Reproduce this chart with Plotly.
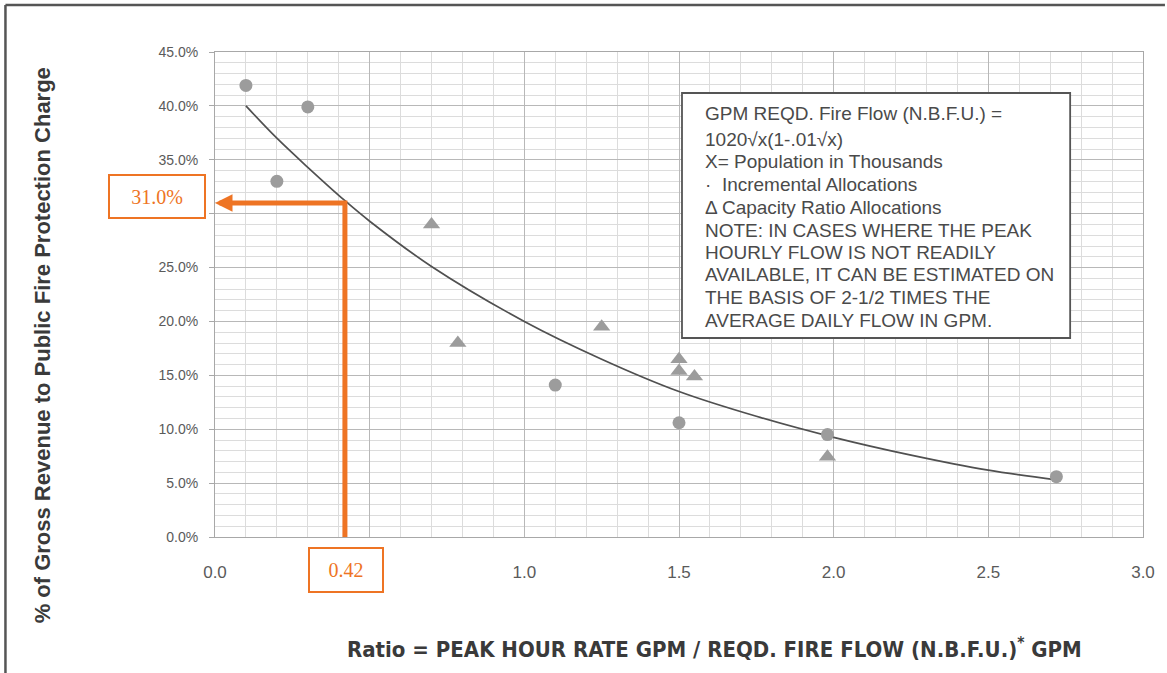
import plotly.graph_objects as go

# ---------------- data ----------------
incr_x = [0.10, 0.20, 0.30, 1.10, 1.50, 1.98, 2.72]
incr_y = [41.9, 33.0, 39.9, 14.1, 10.6, 9.5, 5.6]

cap_x = [0.70, 0.785, 1.25, 1.50, 1.50, 1.55, 1.98]
cap_y = [29.0, 18.0, 19.5, 16.5, 15.4, 14.9, 7.45]

curve_x = [0.10, 0.20, 0.30, 0.42, 0.50, 0.70, 1.00, 1.25, 1.50, 1.75, 2.00, 2.25, 2.50, 2.72]
curve_y = [40.0, 37.0, 34.3, 31.2, 29.3, 25.1, 20.0, 16.5, 13.5, 11.2, 9.25, 7.6, 6.2, 5.3]

lookup_x = 0.42
lookup_y = 31.0
lookup_x_label = "0.42"
lookup_y_label = "31.0%"

x_ticks = [0.0, 0.5, 1.0, 1.5, 2.0, 2.5, 3.0]
x_tick_labels = ["0.0", "", "1.0", "1.5", "2.0", "2.5", "3.0"]  # 0.5 hidden under the 0.42 box
y_ticks = [0, 5, 10, 15, 20, 25, 30, 35, 40, 45]
y_tick_labels = ["0.0%", "5.0%", "10.0%", "15.0%", "20.0%", "25.0%", "", "35.0%", "40.0%", "45.0%"]  # 30% under box

note_lines = [
    "GPM REQD. Fire Flow (N.B.F.U.) =",
    "1020\u221ax(1-.01\u221ax)",
    "X= Population in Thousands",
    "\u00b7  Incremental Allocations",
    "\u0394 Capacity Ratio Allocations",
    "NOTE: IN CASES WHERE THE PEAK",
    "HOURLY FLOW IS NOT READILY",
    "AVAILABLE, IT CAN BE ESTIMATED ON",
    "THE BASIS OF 2-1/2 TIMES THE",
    "AVERAGE DAILY FLOW IN GPM.",
]

x_title = "Ratio = PEAK HOUR RATE GPM / REQD. FIRE FLOW (N.B.F.U.)<sup>*</sup> GPM"
y_title = "% of Gross Revenue to Public Fire Protection Charge"

# ---------------- layout geometry ----------------
W, H = 1167, 673
L, R, T, B = 215, 1145, 52, 537


def px_x(px):
    return (px - L) / (R - L)


def px_y(py):
    return (B - py) / (B - T)


ORANGE = "#EE7424"
MARK = "#9c9c9c"

fig = go.Figure()

# fitted curve
fig.add_trace(go.Scatter(x=curve_x, y=curve_y, mode="lines",
                         line=dict(color="#505050", width=1.7, shape="spline", smoothing=1.0),
                         hoverinfo="skip", showlegend=False))
# incremental allocations (circles)
fig.add_trace(go.Scatter(x=incr_x, y=incr_y, mode="markers",
                         marker=dict(symbol="circle", size=13, color=MARK),
                         showlegend=False))
# capacity ratio allocations (triangles)
fig.add_trace(go.Scatter(x=cap_x, y=cap_y, mode="markers",
                         marker=dict(symbol="triangle-up", size=15, color=MARK),
                         showlegend=False))
# orange lookup lines
fig.add_trace(go.Scatter(x=[lookup_x, lookup_x, 0.03], y=[0, lookup_y, lookup_y], mode="lines",
                         line=dict(color=ORANGE, width=5), hoverinfo="skip", showlegend=False,
                         cliponaxis=False))

annotations = []
# arrow head
annotations.append(dict(x=0.0, y=lookup_y, xref="x", yref="y", ax=0.06, ay=lookup_y,
                        axref="x", ayref="y", showarrow=True, arrowhead=2, arrowsize=0.7,
                        arrowwidth=5, arrowcolor=ORANGE, text=" "))

# orange label boxes
annotations.append(dict(x=px_x(157), y=px_y(196.5), xref="paper", yref="paper",
                        text=lookup_y_label, showarrow=False, xanchor="center", yanchor="middle",
                        font=dict(family="Liberation Serif, Times New Roman, serif", size=20, color=ORANGE),
                        bordercolor=ORANGE, borderwidth=2, borderpad=0, width=94, height=41,
                        bgcolor="white"))
annotations.append(dict(x=px_x(346), y=px_y(570), xref="paper", yref="paper",
                        text=lookup_x_label, showarrow=False, xanchor="center", yanchor="middle",
                        font=dict(family="Liberation Serif, Times New Roman, serif", size=20, color=ORANGE),
                        bordercolor=ORANGE, borderwidth=2, borderpad=0, width=72, height=42,
                        bgcolor="white"))

# note box text
line_py = [113, 139, 161, 184, 207, 230, 252, 274, 297, 320]
for txt, py in zip(note_lines, line_py):
    annotations.append(dict(x=px_x(704), y=px_y(py), xref="paper", yref="paper", text=txt,
                            showarrow=False, xanchor="left", yanchor="middle",
                            font=dict(family="Liberation Sans, Arial, sans-serif", size=19, color="#4a4a4a")))

# axis titles
annotations.append(dict(x=px_x(716), y=px_y(648), xref="paper", yref="paper", text="<b>" + x_title + "</b>",
                        showarrow=False, xanchor="center", yanchor="middle",
                        font=dict(family="Liberation Sans Narrow, Arial Narrow, DejaVu Sans Condensed, sans-serif",
                                  size=22, color="#3a3a3a")))
annotations.append(dict(x=px_x(42), y=px_y(345), xref="paper", yref="paper", text="<b>" + y_title + "</b>",
                        showarrow=False, xanchor="center", yanchor="middle", textangle=-90,
                        font=dict(family="Liberation Sans, Arial, sans-serif", size=22, color="#3a3a3a")))

shapes = [
    # note box
    dict(type="rect", xref="paper", yref="paper", x0=px_x(683), x1=px_x(1072), y0=px_y(338), y1=px_y(93),
         line=dict(color="#555555", width=1.8), fillcolor="white", layer="above"),
    # outer frame (top and left edges)
    dict(type="line", xref="paper", yref="paper", x0=px_x(5), x1=px_x(1167), y0=px_y(5), y1=px_y(5),
         line=dict(color="#555555", width=2.5)),
    dict(type="line", xref="paper", yref="paper", x0=px_x(5), x1=px_x(5), y0=px_y(5), y1=px_y(673),
         line=dict(color="#555555", width=2.5)),
]

fig.update_layout(
    width=W, height=H,
    margin=dict(l=L, r=W - R, t=T, b=H - B),
    paper_bgcolor="white", plot_bgcolor="white",
    showlegend=False,
    annotations=annotations,
    shapes=shapes,
    xaxis=dict(range=[0, 3], tickvals=x_ticks, ticktext=x_tick_labels,
               showgrid=True, gridcolor="#b8b8b8", gridwidth=1,
               minor=dict(dtick=0.1, showgrid=True, gridcolor="#dcdcdc", gridwidth=1),
               showline=True, linecolor="#a8a8a8", linewidth=1, mirror=True,
               ticks="", zeroline=False, ticklabelstandoff=20,
               tickfont=dict(family="Liberation Sans, Arial, sans-serif", size=17, color="#5a5a5a")),
    yaxis=dict(range=[0, 45], tickvals=y_ticks, ticktext=y_tick_labels,
               showgrid=True, gridcolor="#b8b8b8", gridwidth=1,
               minor=dict(dtick=1, showgrid=True, gridcolor="#dcdcdc", gridwidth=1),
               showline=True, linecolor="#a8a8a8", linewidth=1, mirror=True,
               ticks="outside", ticklen=5, tickcolor="#a8a8a8", zeroline=False, ticklabelstandoff=8,
               tickfont=dict(family="Liberation Sans, Arial, sans-serif", size=14, color="#5a5a5a")),
)

fig.write_html("out.html", config={"displayModeBar": False},
               post_script="document.body.style.margin='0px';")
